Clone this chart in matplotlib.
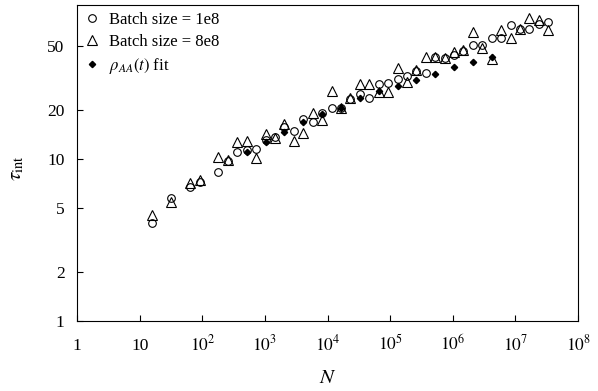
import numpy as np
import matplotlib.pyplot as plt

plt.rcParams['font.family'] = ['Liberation Serif', 'DejaVu Serif']
plt.rcParams['mathtext.fontset'] = 'stix'

# system sizes, given as log2(N)
log2_n = [4, 5, 6, 6.5, 7.5, 8, 8.5, 9, 9.5, 10, 10.5, 11, 11.5, 12, 12.5,
          13, 13.5, 14, 14.5, 15, 15.5, 16, 16.5, 17, 17.5, 18, 18.5, 19,
          19.5, 20, 20.5, 21, 21.5, 22, 22.5, 23, 23.5, 24, 24.5, 25]

# integrated autocorrelation time, batch size 1e8
tau_1e8 = [4.04, 5.72, 6.75, 7.18, 8.31, 9.72, 11.1, 11.4, 11.5, 13.1, 13.7,
           15.7, 14.9, 17.7, 16.9, 19.4, 20.6, 20.7, 23.5, 25.4, 24.0, 29.0,
           29.4, 31.4, 32.8, 35.2, 34.2, 42.6, 42.3, 44.2, 46.4, 50.5, 50.5,
           56.2, 56.4, 67.2, 63.9, 63.5, 67.9, 70.4]

# integrated autocorrelation time, batch size 8e8
tau_8e8 = [4.51, 5.45, 7.08, 7.42, 10.3, 9.86, 12.7, 13.0, 10.1, 14.4, 13.6,
           16.4, 13.0, 14.5, 19.2, 17.4, 26.5, 20.7, 23.7, 29.0, 29.0, 26.0,
           25.9, 36.7, 30.0, 35.4, 43.0, 42.6, 42.0, 45.8, 47.1, 60.8, 48.4,
           41.4, 63.0, 56.2, 64.1, 74.7, 72.6, 62.6]

# values from the rho_AA(t) fit
log2_n_fit = [9, 10, 11, 12, 13, 14, 15, 16, 17, 18, 19, 20, 21, 22]
tau_fit = [11.0, 12.8, 14.7, 16.9, 19.1, 20.7, 23.7, 26.5, 28.3, 30.7, 33.8,
           37.0, 40.0, 42.8]

n = 2.0 ** np.array(log2_n)
n_fit = 2.0 ** np.array(log2_n_fit)

fig = plt.figure(figsize=(5.98, 3.91), dpi=100)
ax = fig.add_axes([0.1288, 0.179, 0.8378, 0.807])

ax.plot(n, tau_1e8, 'o', mfc='none', mec='k', ms=5.5, mew=0.8,
        label='Batch size = 1e8')
ax.plot(n, tau_8e8, '^', mfc='none', mec='k', ms=6.5, mew=0.8,
        label='Batch size = 8e8')
ax.plot(n_fit, tau_fit, 'D', color='k', ms=3.2, label=r'$\rho_{AA}(t)$ fit')

ax.set_xscale('log')
ax.set_yscale('log')
ax.set_xlim(1, 1e8)
ax.set_ylim(1, 89)
ax.minorticks_off()
ax.set_xticks([10.0 ** k for k in range(9)])
ax.set_xticklabels(['1', '10'] + [r'$10^{%d}$' % k for k in range(2, 9)])
ax.set_yticks([1, 2, 5, 10, 20, 50])
ax.set_yticklabels(['1', '2', '5', '10', '20', '50'])
ax.tick_params(direction='in', length=4, width=0.8, labelsize=12.5)
ax.tick_params(axis='y', pad=9)
ax.tick_params(axis='x', pad=21)
# put all x labels on one baseline, plain and superscripted alike
for lab in ax.get_xticklabels():
    lab.set_verticalalignment('baseline')

ax.set_xlabel(r'$N$', fontsize=15)
ax.xaxis.label.set_verticalalignment('center')
ax.xaxis.set_label_coords(0.5, -0.181)
ax.set_ylabel(r'$\tau_{\rm int}$', fontsize=15)
ax.yaxis.label.set_verticalalignment('center')
ax.yaxis.set_label_coords(-0.12, 0.485)

ax.legend(loc='upper left', frameon=False, fontsize=12, handletextpad=0.55,
          labelspacing=0.35, borderaxespad=0.1, borderpad=0.3,
          handlelength=0.95)

fig.savefig('out.png', dpi=100)
